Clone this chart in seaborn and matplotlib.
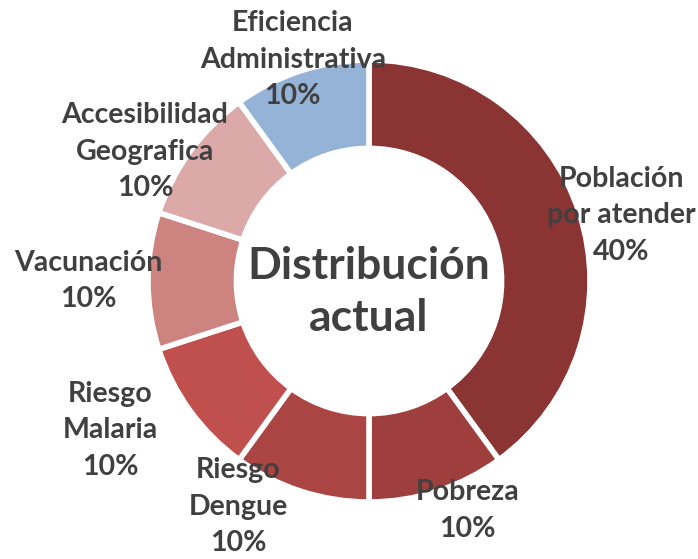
import matplotlib
matplotlib.use("Agg")
import matplotlib.pyplot as plt
import seaborn as sns
import numpy as np

categories = ["Población\npor atender", "Pobreza", "Riesgo\nDengue", "Riesgo\nMalaria",
              "Vacunación", "Accesibilidad\nGeografica", "Eficiencia\nAdministrativa"]
values = [40, 10, 10, 10, 10, 10, 10]
colors = ["#8A3534", "#9E3F3E", "#AA4544", "#C0504D", "#CD8481", "#DAA9A8", "#95B3D7"]
center_title = "Distribución\nactual"

# label placement (angle in degrees, distance relative to outer radius)
label_pos = [(14.6, 1.18), (-66.7, 1.13), (240, 1.18), (210, 1.35),
             (180, 1.27), (150, 1.17), (109, 1.06)]

sns.set_theme(style="white")
plt.rcParams['font.family'] = ['Lato', 'DejaVu Sans']

W, H = 698, 559
fig = plt.figure(figsize=(W / 100, H / 100), dpi=100)
ax = fig.add_axes([0, 0, 1, 1])

cx, cy, R = 369, 281, 221
wedges, _ = ax.pie(values, colors=colors, startangle=90, counterclock=False,
                   radius=1.0,
                   wedgeprops=dict(width=0.4, edgecolor="white", linewidth=4))

total = sum(values)
txtcol = "#404040"
for cat, v, (ang, d) in zip(categories, values, label_pos):
    x = d * np.cos(np.radians(ang))
    y = d * np.sin(np.radians(ang))
    ax.text(x, y, f"{cat}\n{round(100 * v / total)}%", ha="center", va="center",
            fontsize=20.5, fontweight="bold", color=txtcol, linespacing=1.5)

ax.text(0, -0.05, center_title, ha="center", va="center", fontsize=32,
        fontweight="bold", color=txtcol, linespacing=1.38)

ax.set_xlim(-cx / R, (W - cx) / R)
ax.set_ylim(-(H - cy) / R, cy / R)
ax.set_aspect("equal")
ax.axis("off")

fig.savefig("out.png", dpi=100)
